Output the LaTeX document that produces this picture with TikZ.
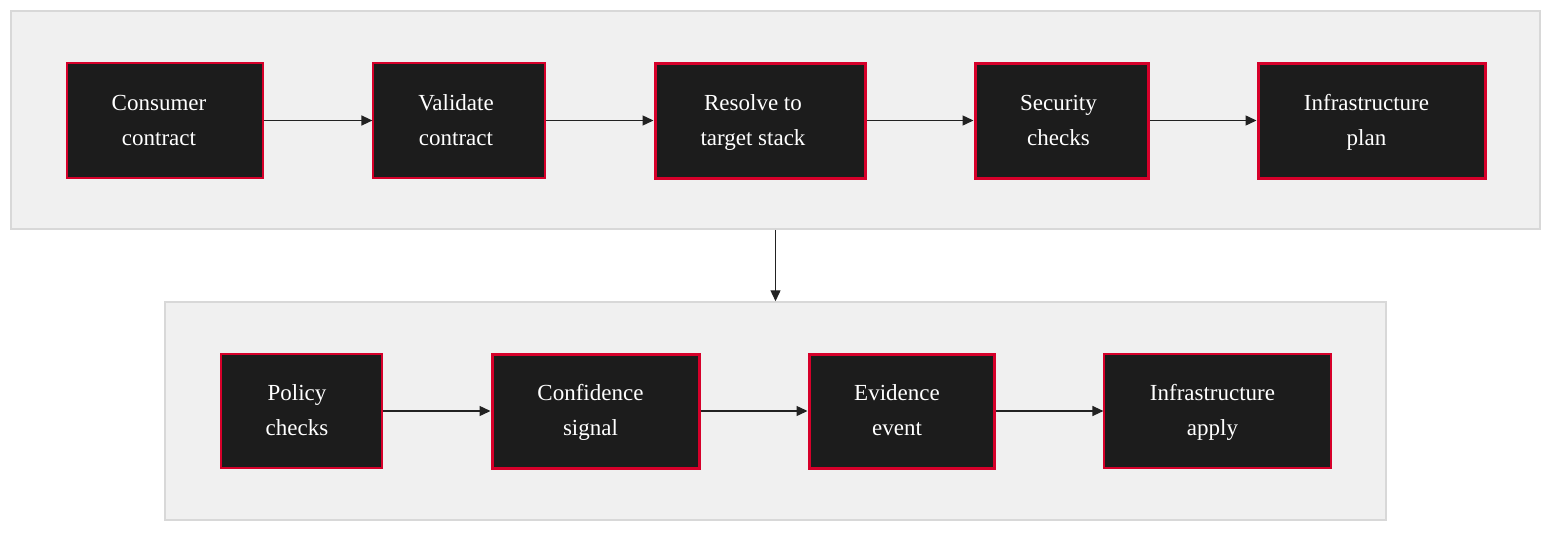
\documentclass[tikz,border=0pt]{standalone}
\usepackage{fontspec}
\setmainfont{Liberation Serif}
\usetikzlibrary{arrows.meta}
\definecolor{grpfill}{HTML}{F0F0F0}
\definecolor{grpline}{HTML}{D8D8D8}
\definecolor{boxfill}{HTML}{1C1C1C}
\definecolor{boxred}{HTML}{D6002A}
\definecolor{arrowc}{HTML}{222222}
\tikzset{
  grp/.style={draw=grpline, fill=grpfill, line width=1.5pt},
  box/.style={draw=boxred, fill=boxfill, line width=1.2pt, inner sep=0pt},
  boxthick/.style={box, line width=3pt},
  lbl/.style={text=white, align=center, font=\fontsize{23}{35}\selectfont, inner sep=0pt},
  flow/.style={draw=arrowc, line width=1.4pt, -{Triangle[length=11pt,width=10pt]}},
}
\newcommand{\pbox}[9]{% name, style, x1, y1, x2, y2, line1, line2, xshift
  \node[#2, minimum width={#5-#3}, minimum height={#6-#4}] (#1) at ({(#3+#5)/2},{(#4+#6)/2}) {};
  \node[lbl, xshift=#9] (#1t) at (#1.center) {\strut #7\\\strut #8};
}
\begin{document}
\begin{tikzpicture}[x=1pt,y=-1pt]
\useasboundingbox (0,0) rectangle (1568,538);
\node[grp, minimum width=1529pt, minimum height=218pt, inner sep=0pt] (top) at (775.5,120) {};
\node[grp, minimum width=1221pt, minimum height=218pt, inner sep=0pt] (bot) at (775.5,411) {};
\pbox{a}{box}{67}{63}{263}{178}{Consumer}{contract}{-6pt}
\pbox{b}{box}{373}{63}{545}{178}{Validate}{contract}{-3pt}
\pbox{c}{boxthick}{655}{63}{865}{178}{Resolve to}{target stack}{-7pt}
\pbox{d}{boxthick}{975}{63}{1148}{178}{Security}{checks}{-3pt}
\pbox{e}{boxthick}{1258}{63}{1485}{178}{Infrastructure}{plan}{-5pt}
\pbox{f}{box}{221}{354}{382}{468}{Policy}{checks}{-4.5pt}
\pbox{g}{boxthick}{492}{354}{699}{468}{Confidence}{signal}{-5pt}
\pbox{h}{boxthick}{809}{354}{994}{468}{Evidence}{event}{-4.5pt}
\pbox{i}{box}{1104}{354}{1331}{468}{Infrastructure}{apply}{-5pt}
\draw[flow] (a.east) -- (b.west);
\draw[flow] (b.east) -- (c.west);
\draw[flow] (c.east) -- (d.west);
\draw[flow] (d.east) -- (e.west);
\draw[flow] (f.east) -- (g.west);
\draw[flow] (g.east) -- (h.west);
\draw[flow] (h.east) -- (i.west);
\draw[flow] (top.south) -- (bot.north);
\end{tikzpicture}
\end{document}
